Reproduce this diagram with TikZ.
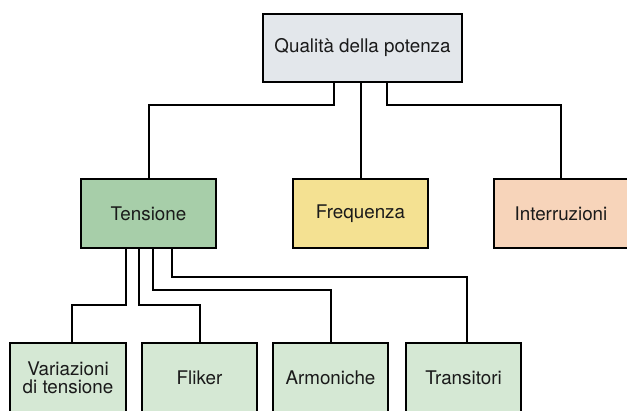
\documentclass[tikz,border=0pt]{standalone}
\usepackage{fontspec}
\setmainfont{TeX Gyre Heros}
\definecolor{cTop}{HTML}{E3E7EB}
\definecolor{cTen}{HTML}{A7CEA9}
\definecolor{cFre}{HTML}{F4E192}
\definecolor{cInt}{HTML}{F7D4BA}
\definecolor{cSub}{HTML}{D5E8D4}
\definecolor{cTxt}{HTML}{1A1A1A}
\begin{document}
\begin{tikzpicture}[x=1pt,y=-1pt,
  box/.style={draw=black,line width=2.5pt,inner sep=0pt,align=center,
    font=\fontsize{18.8}{18}\selectfont,text=cTxt},
  midbox/.style={box,minimum width=135pt,minimum height=69pt},
  subbox/.style={box,minimum width=115pt,minimum height=70pt},
  link/.style={draw=black,line width=2pt}]
\useasboundingbox (0,0) rectangle (627,410);
\node[box,fill=cTop,minimum width=199pt,minimum height=68pt] (top) at (362.5,48) {Qualità della potenza};
\node[midbox,fill=cTen] (tens) at (148.5,213.5) {Tensione};
\node[midbox,fill=cFre] (freq) at (360.5,213.5) {Frequenza};
\node[midbox,fill=cInt,minimum width=134pt] (intr) at (561,213.5) {Interruzioni};
\node[subbox,fill=cSub,minimum width=116pt] (var) at (68,378) {Variazioni\\di tensione};
\node[subbox,fill=cSub] (flik) at (199.5,378) {Fliker};
\node[subbox,fill=cSub] (arm) at (330.5,378) {Armoniche};
\node[subbox,fill=cSub] (trans) at (463.5,378) {Transitori};
% top connectors
\draw[link] (334,0 |- top.south) |- (148.5,105) -- (tens.north);
\draw[link] (freq.north |- top.south) -- (freq.north);
\draw[link] (387,0 |- top.south) |- (561,105) -- (intr.north);
% Tensione connectors
\draw[link] (126,0 |- tens.south) |- (72,305) -- (72,0 |- var.north);
\draw[link] (139,0 |- tens.south) |- (200,305) -- (200,0 |- flik.north);
\draw[link] (153,0 |- tens.south) |- (330.5,290) -- (arm.north);
\draw[link] (172,0 |- tens.south) |- (467,277) -- (467,0 |- trans.north);
\end{tikzpicture}
\end{document}
